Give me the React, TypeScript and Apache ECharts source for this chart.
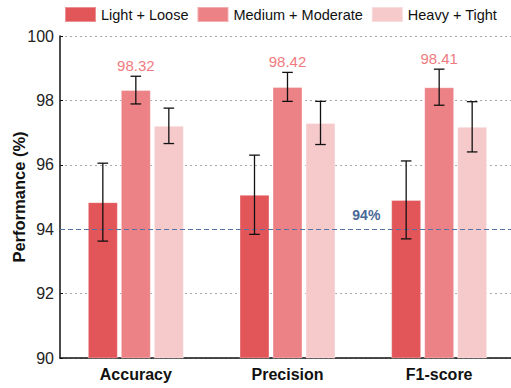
import React, { useEffect, useRef } from "react";
import * as echarts from "echarts";

const categories = ["Accuracy", "Precision", "F1-score"];
const seriesNames = ["Light + Loose", "Medium + Moderate", "Heavy + Tight"];
const lightLoose = [94.84, 95.07, 94.91];
const lightLooseErr = [1.21, 1.23, 1.21];
const mediumModerate = [98.32, 98.42, 98.41];
const mediumModerateErr = [0.43, 0.45, 0.56];
const heavyTight = [97.21, 97.3, 97.18];
const heavyTightErr = [0.55, 0.67, 0.78];
const yMin = 90;
const yMax = 100;
const yInterval = 2;
const threshold = 94;
const thresholdLabel = "94%";

const colors = ["#e2565a", "#ec8286", "#f6cacb"];
const BAR_W = 30;
const BAR_GAP_PX = 3;
const FONT = "'Liberation Sans', Arial, Helvetica, sans-serif";

export default function App() {
  const ref = useRef<HTMLDivElement>(null);
  useEffect(() => {
    if (!ref.current) return;
    const chart = echarts.init(ref.current, null, { renderer: "svg" });
    const values = [lightLoose, mediumModerate, heavyTight];
    const errs = [lightLooseErr, mediumModerateErr, heavyTightErr];

    const barSeries = values.map((vals, i) => ({
      name: seriesNames[i],
      type: "bar",
      data: vals,
      barWidth: BAR_W,
      barGap: "10%",
      itemStyle: {
        color: colors[i],
        borderColor: "rgba(255,255,255,0.35)",
        borderWidth: 1,
      },
      z: 2,
      ...(i === 0
        ? {
            markLine: {
              silent: true,
              symbol: "none",
              label: { show: false },
              lineStyle: { type: [5, 3], color: "#5374a6", width: 1.2, opacity: 1 },
              data: [{ yAxis: threshold }],
              z: 4,
            },
          }
        : {}),
    }));

    const errSeries = values.map((vals, i) => ({
      name: seriesNames[i] + " err",
      type: "custom",
      z: 5,
      data: vals.map((v, k) => [k, v - errs[i][k], v + errs[i][k], v]),
      renderItem: (params: any, api: any) => {
        const cat = api.value(0);
        const lo = api.value(1);
        const hi = api.value(2);
        const mean = api.value(3);
        const top = api.coord([cat, hi]);
        const bot = api.coord([cat, lo]);
        const x = top[0] + (i - 1) * (BAR_W + BAR_GAP_PX);
        const cap = 5.3;
        const ls = { stroke: "#111", lineWidth: 1.3 };
        const children: any[] = [
          { type: "line", shape: { x1: x, y1: top[1], x2: x, y2: bot[1] }, style: ls },
          { type: "line", shape: { x1: x - cap, y1: top[1], x2: x + cap, y2: top[1] }, style: ls },
          { type: "line", shape: { x1: x - cap, y1: bot[1], x2: x + cap, y2: bot[1] }, style: ls },
        ];
        if (i === 1) {
          children.push({
            type: "text",
            style: {
              text: mean.toFixed(2),
              x,
              y: top[1] - 3,
              align: "center",
              verticalAlign: "bottom",
              fill: "#ef7b80",
              font: `15px ${FONT}`,
            },
          });
        }
        return { type: "group", children };
      },
    }));

    chart.setOption({
      animation: false,
      textStyle: { fontFamily: FONT },
      legend: {
        data: seriesNames,
        top: 1,
        left: 59,
        itemWidth: 31,
        itemHeight: 15,
        itemGap: 8,
        icon: "rect",
        textStyle: { fontSize: 14.5, color: "#111", fontFamily: FONT },
      },
      grid: { left: 60, right: -4, top: 36, bottom: 30, containLabel: false, outerBoundsMode: "none" },
      xAxis: {
        type: "category",
        data: categories,
        axisLine: { lineStyle: { color: "#111", width: 1.5 } },
        axisTick: { show: false },
        axisLabel: { fontSize: 16, fontWeight: "bold", color: "#111", margin: 8, fontFamily: FONT },
      },
      yAxis: {
        type: "value",
        min: yMin,
        max: yMax,
        interval: yInterval,
        name: "Performance (%)",
        nameLocation: "middle",
        nameGap: 33,
        nameMoveOverlap: false,
        nameTextStyle: { fontSize: 16.5, fontWeight: "bold", color: "#111", fontFamily: FONT },
        axisLine: { show: true, lineStyle: { color: "#111", width: 1.5 } },
        axisTick: { show: true, inside: true, length: 3, lineStyle: { color: "#111" } },
        axisLabel: { fontSize: 16, color: "#222", margin: 6, fontFamily: FONT },
        splitLine: {
          show: true,
          lineStyle: {
            type: [2, 3],
            color: ["#aaa", "#aaa", "rgba(0,0,0,0)", "#aaa", "#aaa", "#aaa"],
            width: 1,
          },
        },
      },
      series: [...barSeries, ...errSeries],
    });

    const p1 = chart.convertToPixel({ xAxisIndex: 0, yAxisIndex: 0 }, [1, threshold]) as number[];
    const p2 = chart.convertToPixel({ xAxisIndex: 0, yAxisIndex: 0 }, [2, threshold]) as number[];
    chart.setOption({
      graphic: [
        {
          type: "text",
          x: (p1[0] + p2[0]) / 2 + 3,
          y: p1[1] - 7,
          z: 10,
          style: {
            text: thresholdLabel,
            align: "center",
            verticalAlign: "bottom",
            fill: "#4a6896",
            font: `bold 14px ${FONT}`,
          },
        },
      ],
    });

    return () => chart.dispose();
  }, []);
  return <div ref={ref} style={{ width: 511, height: 388, position: "absolute", left: 0, top: 0 }} />;
}
